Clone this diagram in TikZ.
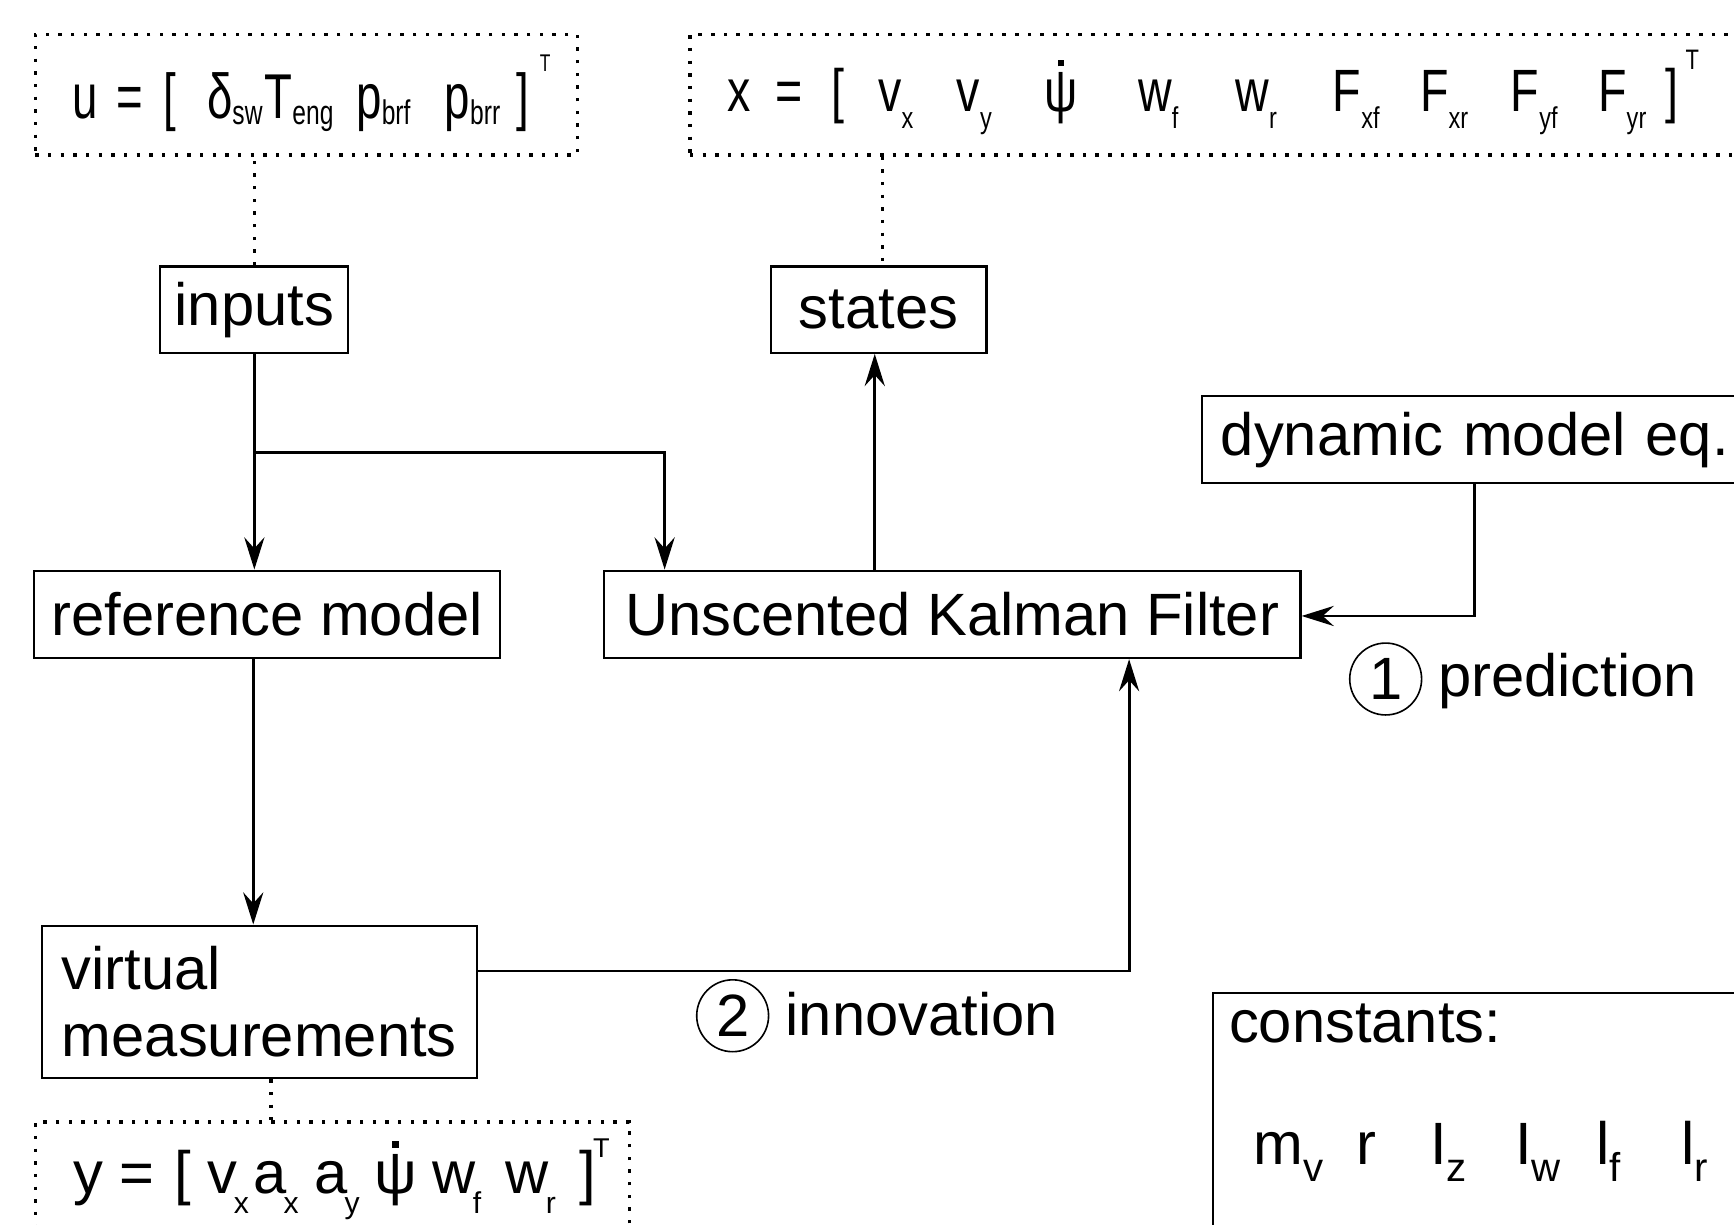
\documentclass[tikz,border=0pt]{standalone}
\usepackage{fontspec}
\setmainfont{Liberation Sans}
\newfontfamily\narrowfont[FakeStretch=0.78]{Liberation Sans}
\newfontfamily\tightfont[FakeStretch=0.72]{Liberation Sans}
\usetikzlibrary{arrows.meta}
\newlength\pxu
\setlength\pxu{0.55pt}
% glyph group at a horizontal offset (picture units) from the node origin
\newcommand\tok[2]{\rlap{\hspace*{#1\pxu}#2}}
% raised or lowered group in its own size: offset, shift up, size, text
\newcommand\shf[4]{\rlap{\hspace*{#1\pxu}\raisebox{#2\pxu}{\fontsize{#3}{#3}\selectfont #4}}}
% glyph with a subscript; drop, size and kern come from \sdrop, \ssize, \skern
\def\skern{0pt}
\newcommand\gs[3]{\tok{#1}{#2\kern\skern\raisebox{-\sdrop\pxu}{\fontsize{\ssize}{\ssize}\selectfont #3}}}
% psi with a square dot above it
\newcommand\psidot{\setbox0\hbox{ψ}\rlap{\hbox to\wd0{\hss\raisebox{0.76em}{\rule{0.11em}{0.11em}}\hss}}\box0}
\begin{document}
\begin{tikzpicture}[x=0.55pt,y=-0.55pt,
  box/.style={draw, line width=1.1pt, inner sep=0},
  dotbox/.style={draw, line width=1.7pt, dash pattern=on 1.7pt off 4.6pt, inner sep=0},
  dotline/.style={line width=1.7pt, dash pattern=on 1.7pt off 4.6pt},
  conn/.style={line width=1.45pt},
  arr/.style={conn, -{Stealth[length=16pt,width=10pt,inset=5.5pt]}},
  sz/.style 2 args={minimum width=#1*0.55pt, minimum height=#2*0.55pt},
  numcircle/.style={circle, draw, line width=0.8pt, inner sep=0, minimum size=65*0.55pt},
  narrow/.style={font=\narrowfont\fontsize{29.7pt}{33.5pt}\selectfont},
  tight/.style={font=\tightfont\fontsize{31.5pt}{35pt}\selectfont},
  every node/.style={font=\fontsize{29.7pt}{33.5pt}\selectfont}]
\useasboundingbox (0,0) rectangle (1568,1107);

% vector boxes
\node[dotbox, sz={490}{109}] (ubox) at (277,85.5) {};
\node[dotbox, sz={976}{109}] (xbox) at (1112,85.5) {};
\node[dotbox, sz={537}{116}] (ybox) at (300.5,1072.5) {};

\node[tight, anchor=base west, inner sep=0] (utext) at (32,107) {\def\sdrop{6}\def\ssize{17pt}%
  \tok{32}{u}\tok{72}{=}\tok{115}{[}\gs{154}{δ}{sw}\gs{206}{T}{eng}\gs{289}{p}{brf}\gs{369}{p}{brr}\tok{434}{]}\shf{455}{42}{12pt}{T}};
\node[narrow, anchor=base west, inner sep=0] (xtext) at (624,101) {\def\sdrop{15}\def\ssize{15pt}%
  \tok{33}{x}\tok{76}{=}\tok{127}{[}\gs{169}{v}{x}\gs{240}{v}{y}\tok{319}{\psidot}\gs{404}{w}{f}\gs{492}{w}{r}%
  \gs{580}{F}{xf}\gs{659}{F}{xr}\gs{741}{F}{yf}\gs{820}{F}{yr}\tok{881}{]}\shf{899}{38}{14pt}{T}};
\node[anchor=base west, inner sep=0] (ytext) at (32,1079) {\def\sdrop{18}\def\ssize{15pt}\def\skern{-1.5pt}%
  \tok{33}{y}\tok{75}{=}\tok{125}{[}\gs{154}{v}{x}\gs{196}{a}{x}\gs{251}{a}{y}\tok{305}{\psidot}\gs{358}{w}{f}\gs{424}{w}{r}\tok{491}{]}\shf{503}{32}{13.5pt}{T}};

% blocks
\node[box, sz={170}{78}] (inputs) at (230,280) {inputs};
\node[box, sz={195}{78}] (states) at (794.5,280) {states};
\node[box, anchor=west, text width=264pt, align=left, inner xsep=9.35pt, minimum height=79*0.55pt] (dyn) at (1086,397.5) {dynamic model eq.};
\node[box, sz={421}{79}] (refm) at (241.5,555.5) {reference model};
\node[box, sz={630}{79}] (ukf) at (861,555.5) {Unscented Kalman Filter};
\node[box, sz={393}{138}, align=left] (vm) at (234.5,906) {virtual\\measurements};

% constants
\node[box, sz={503}{232}] (cbox) at (1348.5,1014) {};
\node[anchor=base west, inner sep=0] (ctitle) at (1111,943) {constants:};
\node[anchor=base west, inner sep=0] (clist) at (1097,1053) {\def\sdrop{15}\def\ssize{20pt}%
  \gs{35}{m}{v}\tok{128}{r}\gs{195}{I}{z}\gs{272}{I}{w}\gs{345}{l}{f}\gs{422}{l}{r}};

% step labels
\node[numcircle] (c1) at (1253,614) {1};
\node[anchor=base west, inner sep=0] (pred) at (1300,630) {prediction};
\node[numcircle] (c2) at (662.5,918.5) {2};
\node[anchor=base west, inner sep=0] (innov) at (710,936) {innovation};

% routing points
\coordinate (brk) at (230,409);
\coordinate (brx) at (601,409);
\coordinate (sx) at (791,0);
\coordinate (dx) at (1333,557);
\coordinate (rx) at (229,0);
\coordinate (vmx) at (1021,878);
\coordinate (xdx) at (798,0);
\coordinate (ydx) at (245,0);

% dotted links to the vectors
\draw[dotline] (inputs.north) -- (inputs.north |- ubox.south);
\draw[dotline] (xdx |- xbox.south) -- (xdx |- states.north);
\draw[dotline] (ydx |- vm.south) -- (ydx |- ybox.north);

% signal flow
\draw[arr] (inputs.south) -- (inputs.south |- refm.north);
\draw[arr] (brk) -- (brx) -- (brx |- ukf.north);
\draw[arr] (sx |- ukf.north) -- (sx |- states.south);
\draw[arr] (dx |- dyn.south) -- (dx) -- (dx -| ukf.east);
\draw[arr] (rx |- refm.south) -- (rx |- vm.north);
\draw[arr] (vmx -| vm.east) -- (vmx) -- (vmx |- ukf.south);
\end{tikzpicture}
\end{document}
